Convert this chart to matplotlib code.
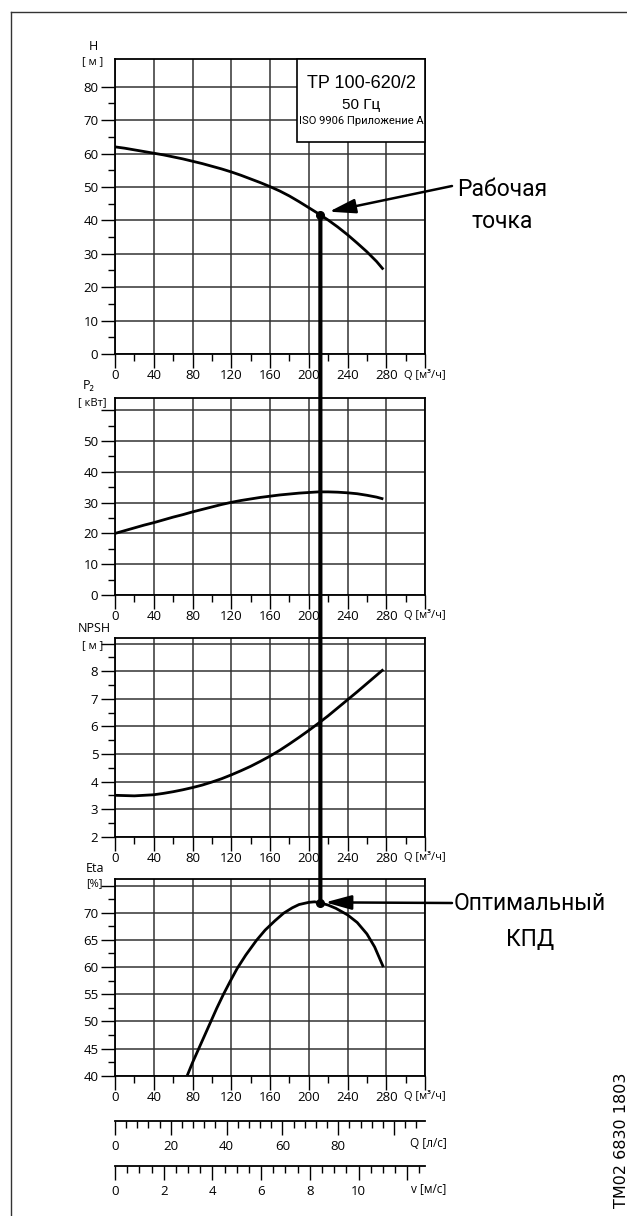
import numpy as np
import matplotlib
matplotlib.use("Agg")
import matplotlib.pyplot as plt
from matplotlib.patches import ConnectionPatch, Rectangle
from matplotlib.lines import Line2D

# === Data ===
q_h = [0, 10, 20, 30, 40, 50, 60, 70, 80, 90, 100, 110, 120, 130, 140, 150, 160, 170, 180,
       190, 200, 210, 220, 230, 240, 250, 260, 270, 277]
head = [62, 61.6, 61.1, 60.6, 60.1, 59.6, 59.0, 58.4, 57.7, 57.0, 56.2, 55.4, 54.5, 53.5, 52.4,
        51.3, 50.1, 48.8, 47.3, 45.6, 43.8, 42.0, 40.1, 38.0, 35.7, 33.2, 30.6, 27.7, 25.3]

q_p = [0, 10, 20, 30, 40, 50, 60, 70, 80, 90, 100, 110, 120, 130, 140, 150, 160, 170, 180,
       190, 200, 210, 220, 230, 240, 250, 260, 270, 277]
power = [20, 20.9, 21.8, 22.7, 23.5, 24.4, 25.3, 26.1, 27, 27.8, 28.6, 29.4, 30.1, 30.7, 31.2,
         31.7, 32.1, 32.5, 32.8, 33.1, 33.3, 33.5, 33.5, 33.4, 33.2, 32.9, 32.4, 31.8, 31.2]

q_n = [0, 10, 20, 30, 40, 50, 60, 70, 80, 90, 100, 110, 120, 130, 140, 150, 160, 170, 180,
       190, 200, 210, 220, 230, 240, 250, 260, 270, 277]
npsh = [3.5, 3.49, 3.48, 3.5, 3.52, 3.57, 3.63, 3.7, 3.78, 3.87, 3.98, 4.1, 4.24, 4.39, 4.55,
        4.73, 4.92, 5.13, 5.36, 5.6, 5.85, 6.11, 6.38, 6.67, 6.96, 7.25, 7.55, 7.85, 8.06]

q_e = [74.5, 80, 87, 92, 98, 105, 112, 119, 126, 135, 146, 155, 165, 174, 183, 190, 200, 206,
       212, 220, 228, 235, 240, 250, 260, 268, 277]
eta = [40, 42.4, 45.2, 47.2, 49.6, 52.4, 55.0, 57.4, 59.7, 62.2, 64.9, 66.8, 68.5, 69.9, 70.9,
       71.5, 71.9, 72.0, 71.8, 71.4, 70.8, 70.1, 69.6, 68.2, 66.1, 63.7, 60]

q_op, h_op, eta_op = 212, 41.7, 71.8

W, HP = 627, 1216
LAB_FONT = ["Open Sans", "DejaVu Sans"]
CALLOUT = ["Roboto", "DejaVu Sans"]
plt.rcParams["font.family"] = LAB_FONT

fig = plt.figure(figsize=(W / 100, HP / 100), dpi=100)


def px_axes(left, top, right, bottom):
    return fig.add_axes([left / W, 1 - bottom / HP, (right - left) / W, (bottom - top) / HP])


def fx(x):
    return x / W


def fy(y):
    return 1 - y / HP


# === Main panels ===
panels = [
    dict(top=59, bottom=354, ylim=(0, 88.3), ticks=np.arange(0, 81, 10), nlab=9, minor=5,
         name="H", unit="[ м ]", name_xy=(93, 47), unit_xy=(93, 62)),
    dict(top=398, bottom=595, ylim=(0, 64), ticks=np.arange(0, 61, 10), nlab=6, minor=5,
         name="P₂", unit="[ кВт]", name_xy=(89, 386), unit_xy=(92, 403)),
    dict(top=638, bottom=836.7, ylim=(2, 9.2), ticks=np.arange(2, 10, 1), nlab=7, minor=0.5,
         name="NPSH", unit="[ м ]", name_xy=(94, 629), unit_xy=(93, 646)),
    dict(top=879, bottom=1075.7, ylim=(40, 76.2), ticks=np.arange(40, 76, 5), nlab=7, minor=2.5,
         name="Eta", unit="[%]", name_xy=(95, 868), unit_xy=(94, 884)),
]
curves = [(q_h, head), (q_p, power), (q_n, npsh), (q_e, eta)]

axes = []
for p, (qx, vy) in zip(panels, curves):
    ax = px_axes(115, p["top"], 425, p["bottom"])
    ax.set_xlim(0, 320)
    ax.set_ylim(*p["ylim"])
    xt = np.arange(0, 321, 40)
    ax.set_xticks(xt)
    ax.set_xticklabels([str(v) for v in xt[:-1]] + [""])
    ax.set_xticks(np.arange(0, 321, 20), minor=True)
    ax.set_yticks(p["ticks"])
    ax.set_yticklabels([f"{v:g}" for v in p["ticks"][:p["nlab"]]] + [""] * (len(p["ticks"]) - p["nlab"]))
    ax.set_yticks(np.arange(p["ylim"][0], p["ticks"][-1] + 0.01, p["minor"]), minor=True)
    ax.tick_params(which="major", length=10, width=1, labelsize=9.5, pad=1, colors="black")
    ax.tick_params(axis="y", which="major", pad=2)
    ax.tick_params(which="minor", length=5, width=1)
    ax.grid(True, which="major", color="#333333", lw=1.1, zorder=0)
    for s in ax.spines.values():
        s.set_linewidth(1.3)
    ax.plot(qx, vy, color="black", lw=2.0, zorder=3, solid_capstyle="butt", solid_joinstyle="round")
    fig.text(fx(404), fy(p["bottom"] + 21), "Q [м³/ч]", fontsize=8, ha="left", va="center")
    fig.text(fx(p["name_xy"][0]), fy(p["name_xy"][1]), p["name"], fontsize=9, ha="center", va="center")
    fig.text(fx(p["unit_xy"][0]), fy(p["unit_xy"][1]), p["unit"], fontsize=8, ha="center", va="center")
    axes.append(ax)

axH, axP, axN, axE = axes

# title box in the head panel
box = Rectangle((187.9, 63.5), 320 - 187.9, 88.3 - 63.5, facecolor="white", edgecolor="black",
                lw=1.2, zorder=5, clip_on=False)
axH.add_patch(box)
axH.text(254, 81.1, "TP 100-620/2", fontsize=13, ha="center", va="center", zorder=6,
         family=["Liberation Sans", "DejaVu Sans"])
axH.text(254, 74.5, "50 Гц", fontsize=11, ha="center", va="center", zorder=6,
         family=["Liberation Sans", "DejaVu Sans"])
axH.text(254, 69.8, "ISO 9906 Приложение A", fontsize=8, ha="center", va="center", zorder=6,
         family=["Roboto", "DejaVu Sans"])

# === Operating point line ===
con = ConnectionPatch(xyA=(q_op, h_op), coordsA=axH.transData,
                      xyB=(q_op, eta_op), coordsB=axE.transData,
                      color="black", lw=3, zorder=10)
fig.add_artist(con)
axH.plot(q_op, h_op, "o", color="black", ms=5.5, zorder=11, clip_on=False)
axE.plot(q_op, eta_op, "o", color="black", ms=5.5, zorder=11, clip_on=False)

arrow_style = dict(arrowstyle="-|>,head_length=0.8,head_width=0.22", mutation_scale=20,
                   lw=1.8, color="black", shrinkA=0, shrinkB=0)
axH.annotate("", xy=(221, 42.6), xycoords="data", xytext=(fx(452), fy(186)),
             textcoords="figure fraction", arrowprops=arrow_style, annotation_clip=False)
axE.annotate("", xy=(217, 71.9), xycoords="data", xytext=(fx(452), fy(903)),
             textcoords="figure fraction", arrowprops=arrow_style, annotation_clip=False)

fig.text(fx(502), fy(189), "Рабочая", fontsize=16.5, ha="center", va="center", family=CALLOUT)
fig.text(fx(502), fy(222), "точка", fontsize=16.5, ha="center", va="center", family=CALLOUT)
fig.text(fx(530), fy(904), "Оптимальный", fontsize=16.5, ha="center", va="center", family=CALLOUT)
fig.text(fx(530), fy(939), "КПД", fontsize=16.5, ha="center", va="center", family=CALLOUT)

# === Auxiliary scales: l/s and m/s ===
aux = [
    dict(y=1120.7, xmax=111.1, major=np.arange(0, 101, 20), minor=4, label="Q [л/с]", lab_x=410),
    dict(y=1165.7, xmax=12.73, major=np.arange(0, 13, 2), minor=0.5, label="v [м/с]", lab_x=411),
]
for a in aux:
    ax = px_axes(115, a["y"] - 1, 425, a["y"])
    ax.set_facecolor("none")
    for side in ["top", "left", "right"]:
        ax.spines[side].set_visible(False)
    ax.spines["bottom"].set_linewidth(1.3)
    ax.set_yticks([])
    ax.set_xlim(0, a["xmax"])
    ax.set_xticks(a["major"])
    ax.set_xticklabels([f"{v:g}" for v in a["major"][:-1]] + [""])
    ax.set_xticks(np.arange(0, a["xmax"], a["minor"]), minor=True)
    ax.tick_params(which="major", length=10, width=1, labelsize=9.5, pad=4)
    ax.tick_params(which="minor", length=5, width=1)
    fig.text(fx(a["lab_x"]), fy(a["y"] + 23), a["label"], fontsize=8.5, ha="left", va="center")

# outer frame and drawing number
fig.add_artist(Line2D([fx(11), fx(11)], [0, fy(12)], color="#333333", lw=1))
fig.add_artist(Line2D([fx(11), 1], [fy(12), fy(12)], color="#333333", lw=1))
fig.text(fx(621), fy(1140), "TM02 6830 1803", rotation=90, fontsize=11.5, ha="center", va="center",
         family=["DejaVu Sans"])

fig.savefig("out.png", dpi=100)
